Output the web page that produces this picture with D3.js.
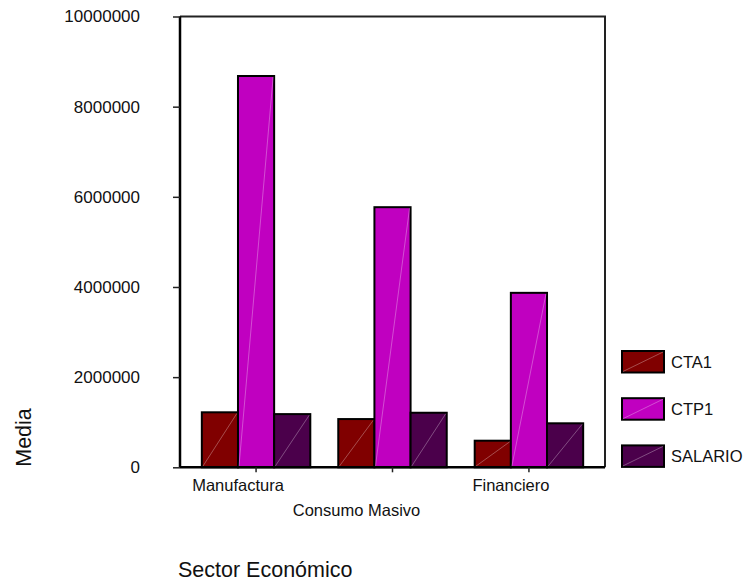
<!DOCTYPE html>
<html>
<head>
<meta charset="utf-8">
<script src="https://cdn.jsdelivr.net/npm/d3@7"></script>
<style>
  html, body { margin: 0; padding: 0; background: #fff; }
  svg text { font-family: "Liberation Sans", Arial, Helvetica, sans-serif; fill: #111; }
</style>
</head>
<body>
<svg id="chart" width="752" height="580"></svg>
<script>
// Sector categories (x axis) and the mean of each variable per sector
const sectors = ["Manufactura", "Consumo Masivo", "Financiero"];
const seriesNames = ["CTA1", "CTP1", "SALARIO"];
const cta1 = [1220000, 1070000, 590000];
const ctp1 = [8680000, 5770000, 3870000];
const salario = [1180000, 1210000, 976000];
const seriesColors = ["#800000", "#C000C0", "#4B004B"];
const yTicks = [0, 2000000, 4000000, 6000000, 8000000, 10000000];
// staggered category labels: row 0 sits right under the axis, row 1 one line lower
const labelRow = [0, 1, 0];

const values = [cta1, ctp1, salario];

const svg = d3.select("#chart");
const plot = { left: 180, right: 605, top: 16.5, bottom: 467.3 };

const x0 = d3.scaleBand().domain(sectors)
  .range([plot.left, plot.right]).paddingInner(0.205).paddingOuter(0.16);
const x1 = d3.scaleBand().domain(seriesNames).range([0, x0.bandwidth()]);
const y = d3.scaleLinear().domain([0, 10000000]).range([plot.bottom, plot.top]);

// plot frame (top and right edges)
svg.append("path")
  .attr("d", `M${plot.left},${plot.top}H${plot.right}V${plot.bottom}`)
  .attr("fill", "none").attr("stroke", "#222").attr("stroke-width", 2);

// bars
const groups = svg.append("g").selectAll("g")
  .data(sectors).join("g")
  .attr("transform", d => `translate(${x0(d)},0)`);

groups.each(function (sector, si) {
  const g = d3.select(this);
  seriesNames.forEach((name, k) => {
    const v = values[k][si];
    const bx = x1(name), bw = x1.bandwidth();
    g.append("rect")
      .attr("x", bx).attr("y", y(v))
      .attr("width", bw).attr("height", y(0) - y(v))
      .attr("fill", seriesColors[k])
      .attr("stroke", "#000").attr("stroke-width", 2);
    // faint diagonal highlight across each bar
    g.append("line")
      .attr("x1", bx + 1).attr("y1", y(0) - 1)
      .attr("x2", bx + bw - 1).attr("y2", y(v) + 1)
      .attr("stroke", "rgba(255,255,255,0.3)").attr("stroke-width", 1);
  });
});

// y axis
const yAxis = d3.axisLeft(y).tickValues(yTicks).tickFormat(d3.format("d"))
  .tickSize(7).tickPadding(33);
const yg = svg.append("g").attr("transform", `translate(${plot.left},0)`).call(yAxis);
yg.select(".domain").attr("stroke", "#000").attr("stroke-width", 2.5)
  .attr("d", `M0,${plot.top}V${plot.bottom}`);
yg.selectAll(".tick line").attr("stroke", "#222").attr("stroke-width", 1.5);
yg.selectAll(".tick text").attr("font-size", 17).attr("fill", "#111")
  .style("font-family", '"Liberation Sans", Arial, sans-serif');

// x axis
const xAxis = d3.axisBottom(x0).tickSize(5).tickFormat("");
const xg = svg.append("g").attr("transform", `translate(0,${plot.bottom})`).call(xAxis);
xg.select(".domain").attr("stroke", "#000").attr("stroke-width", 2.5)
  .attr("d", `M${plot.left},0H${plot.right}`);
xg.selectAll(".tick line").attr("stroke", "#222").attr("stroke-width", 1.5);

svg.append("g").selectAll("text")
  .data(sectors).join("text")
  .attr("x", (d, i) => x0(d) + x0.bandwidth() / 2 - (labelRow[i] ? 36 : 18))
  .attr("y", (d, i) => plot.bottom + 24 + labelRow[i] * 25)
  .attr("text-anchor", "middle").attr("font-size", 16.5)
  .text(d => d);

// axis titles
svg.append("text")
  .attr("x", 178).attr("y", 576.5)
  .attr("font-size", 21.5)
  .text("Sector Económico");

svg.append("text")
  .attr("transform", "translate(31,437.5) rotate(-90)")
  .attr("text-anchor", "middle").attr("font-size", 21.5)
  .text("Media");

// legend
const legend = svg.append("g").selectAll("g")
  .data(seriesNames).join("g")
  .attr("transform", (d, i) => `translate(622,${351 + i * 47.2})`);
legend.append("rect")
  .attr("width", 42).attr("height", 21.5)
  .attr("fill", (d, i) => seriesColors[i])
  .attr("stroke", "#000").attr("stroke-width", 2);
legend.append("line")
  .attr("x1", 1).attr("y1", 20.5).attr("x2", 41).attr("y2", 1)
  .attr("stroke", "rgba(255,255,255,0.3)").attr("stroke-width", 1);
legend.append("text")
  .attr("x", 49).attr("y", 17)
  .attr("font-size", 16.5)
  .text(d => d);
</script>
</body>
</html>
